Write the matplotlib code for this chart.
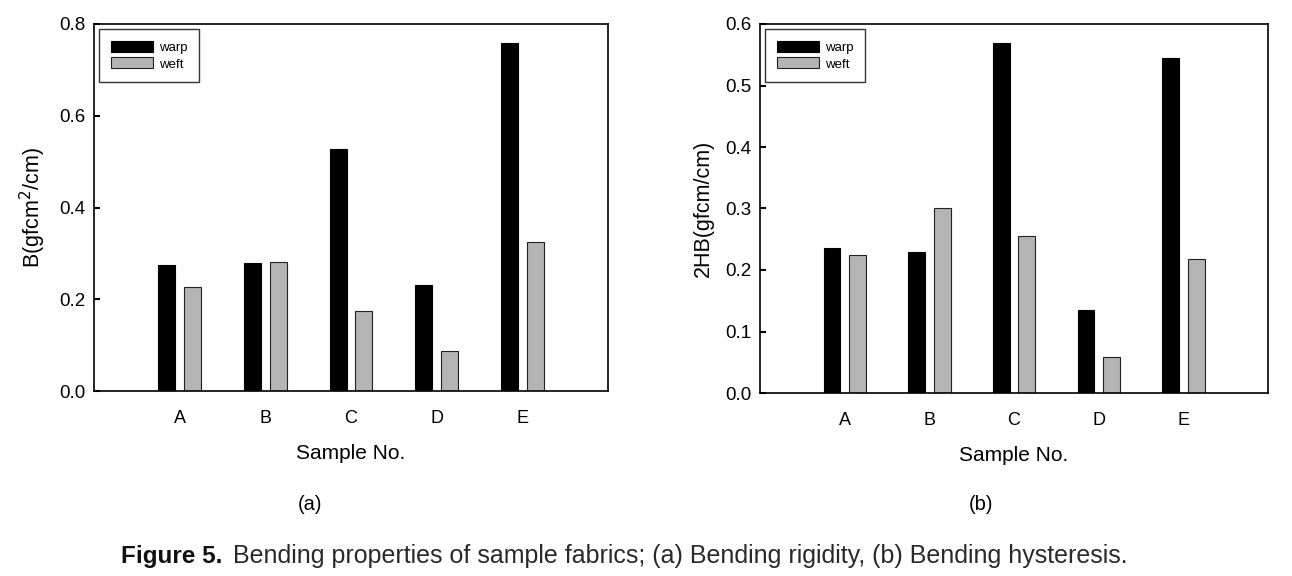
import numpy as np
import matplotlib
matplotlib.use("Agg")
import matplotlib.pyplot as plt

plt.rcParams['font.family'] = ['Liberation Sans', 'DejaVu Sans']

# data
samples = ['A', 'B', 'C', 'D', 'E']
b_warp = [0.275, 0.278, 0.527, 0.231, 0.758]
b_weft = [0.226, 0.281, 0.175, 0.088, 0.325]
hb_warp = [0.236, 0.229, 0.569, 0.135, 0.544]
hb_weft = [0.224, 0.301, 0.256, 0.059, 0.218]

W, H = 1292, 576
fig = plt.figure(figsize=(W / 100, H / 100), dpi=100)
ax1 = fig.add_axes([94 / W, 1 - 391 / H, 514 / W, 367 / H])
ax2 = fig.add_axes([760 / W, 1 - 393 / H, 508 / W, 369 / H])

x = np.arange(1, len(samples) + 1)
w = 0.2


def draw_panel(ax, warp, weft, ymax, step, ylabel):
    ax.bar(x - 0.15, warp, w, color='black', edgecolor='black', linewidth=0.8, label='warp')
    ax.bar(x + 0.15, weft, w, color='#b4b4b4', edgecolor='#222222', linewidth=0.8, label='weft')
    ax.set_xlim(0, 6)
    ax.set_ylim(0, ymax)
    ax.set_yticks(np.arange(0, ymax + step / 2, step))
    ax.yaxis.set_major_formatter(matplotlib.ticker.FormatStrFormatter('%.1f'))
    ax.set_xticks(x)
    ax.set_xticklabels(samples)
    ax.tick_params(axis='x', length=0, pad=14, labelsize=13)
    ax.tick_params(axis='y', direction='in', length=4, width=1.5, labelsize=13.5, pad=6)
    for s in ax.spines.values():
        s.set_linewidth(1.2)
    ax.set_ylabel(ylabel, fontsize=15.5, labelpad=8)
    ax.set_xlabel('Sample No.', fontsize=15, labelpad=12)
    leg = ax.legend(loc='upper left', fontsize=9.5, fancybox=False, handlelength=3.2,
                    handleheight=0.9, borderpad=0.9, labelspacing=0.25,
                    borderaxespad=0.4, handletextpad=0.4)
    leg.get_frame().set_edgecolor('black')
    leg.get_frame().set_linewidth(1.0)


draw_panel(ax1, b_warp, b_weft, 0.8, 0.2, r'B(gfcm$^2$/cm)')
draw_panel(ax2, hb_warp, hb_weft, 0.6, 0.1, '2HB(gfcm/cm)')

fig.text(310 / W, 1 - 505 / H, '(a)', fontsize=14.5, ha='center', va='center')
fig.text(981 / W, 1 - 505 / H, '(b)', fontsize=14.5, ha='center', va='center')

cap_y = 1 - 563 / H
fig.text(222 / W, cap_y, 'Figure 5.', fontsize=17.5, fontweight='bold',
         ha='right', va='baseline', color='#111111')
fig.text(233 / W, cap_y,
         'Bending properties of sample fabrics; (a) Bending rigidity, (b) Bending hysteresis.',
         fontsize=18, ha='left', va='baseline', color='#2a2a2a')

fig.savefig('out.png', dpi=100)
